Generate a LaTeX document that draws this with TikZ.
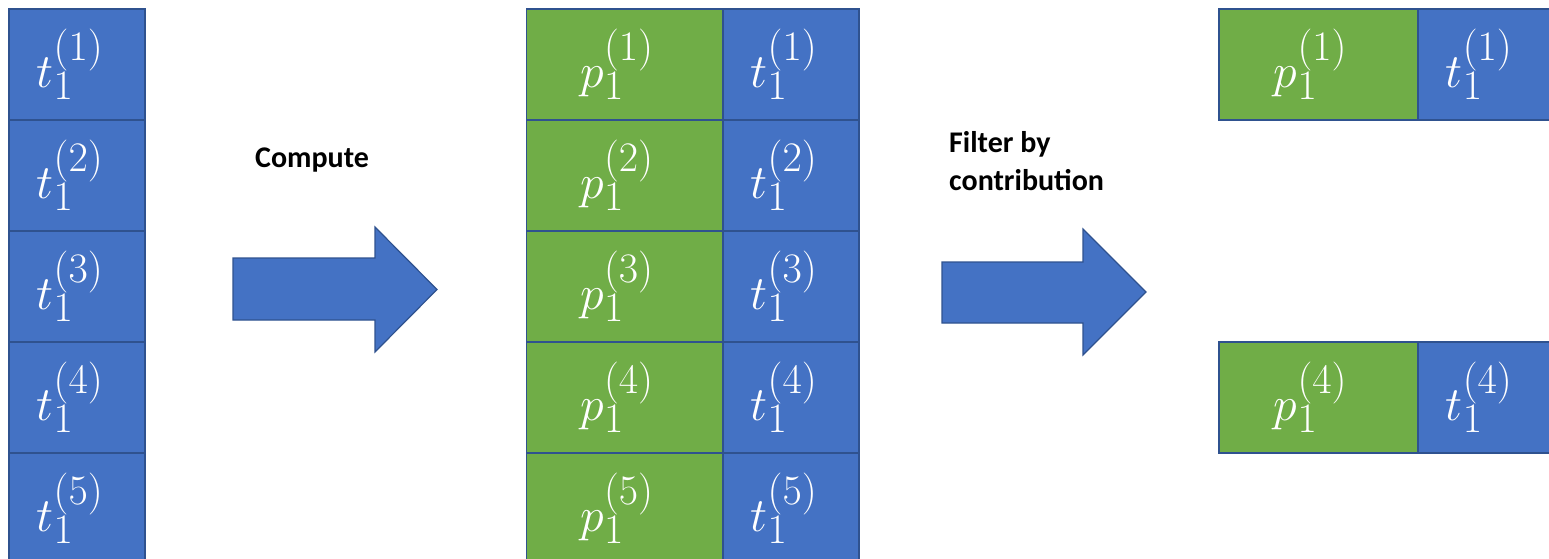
\RequirePackage{fix-cm}
\documentclass[tikz,border=0pt]{standalone}
\usepackage{fontspec}
\newfontfamily\labelfont{Carlito}
\DeclareMathSizes{48}{48}{42}{30}
\definecolor{tblue}{HTML}{4472C4}
\definecolor{pgreen}{HTML}{70AD47}
\definecolor{edge}{HTML}{2F528F}
\newcommand{\tval}[1]{$t_1^{(#1)}$\kern14pt}
\newcommand{\pval}[1]{$p_1^{(#1)}$\kern16pt}
\begin{document}
\begin{tikzpicture}
[x=1pt,y=-1pt,%
  cell/.style={shape=rectangle,draw=edge,line width=1.5pt,inner sep=0pt,
    minimum height=111pt,text=white,font=\fontsize{48}{56}\selectfont},%
  tcell/.style={cell,fill=tblue,minimum width=136pt},%
  pcell/.style={cell,fill=pgreen,minimum width=197pt},%
  blockarrow/.style={fill=tblue,draw=edge,line width=1.2pt,line join=miter},%
  steplabel/.style={inner sep=0pt,font=\labelfont\bfseries\fontsize{30}{38}\selectfont}]
\useasboundingbox (0,0) rectangle (1549,558);
% input column
\node[tcell] (t1) at (77,64.5) {\tval{1}};
\node[tcell] (t2) at (77,175.5) {\tval{2}};
\node[tcell] (t3) at (77,286.5) {\tval{3}};
\node[tcell] (t4) at (77,397.5) {\tval{4}};
\node[tcell] (t5) at (77,508.5) {\tval{5}};
% computed pairs
\node[pcell] (mp1) at (625,64.5) {\pval{1}};
\node[pcell] (mp2) at (625,175.5) {\pval{2}};
\node[pcell] (mp3) at (625,286.5) {\pval{3}};
\node[pcell] (mp4) at (625,397.5) {\pval{4}};
\node[pcell] (mp5) at (625,508.5) {\pval{5}};
\node[tcell] (mt1) at (791,64.5) {\tval{1}};
\node[tcell] (mt2) at (791,175.5) {\tval{2}};
\node[tcell] (mt3) at (791,286.5) {\tval{3}};
\node[tcell] (mt4) at (791,397.5) {\tval{4}};
\node[tcell] (mt5) at (791,508.5) {\tval{5}};
% kept pairs
\node[pcell,minimum width=199pt] (rp1) at (1318.5,64.5) {\pval{1}};
\node[tcell] (rt1) at (1486,64.5) {\tval{1}};
\node[pcell,minimum width=199pt] (rp4) at (1318.5,397.5) {\pval{4}};
\node[tcell] (rt4) at (1486,397.5) {\tval{4}};
% steps
\node[steplabel] (compute) at (312,160) {Compute};
\draw[blockarrow] (233,258) -- (375,258) -- (375,227) -- (437,289.5)
  -- (375,352) -- (375,320) -- (233,320) -- cycle;
\node[steplabel,anchor=west,align=left] (filter) at (949,161) {Filter by\\contribution};
\draw[blockarrow] (942,262) -- (1083,262) -- (1083,229) -- (1146,292)
  -- (1083,355) -- (1083,323) -- (942,323) -- cycle;
\end{tikzpicture}
\end{document}
